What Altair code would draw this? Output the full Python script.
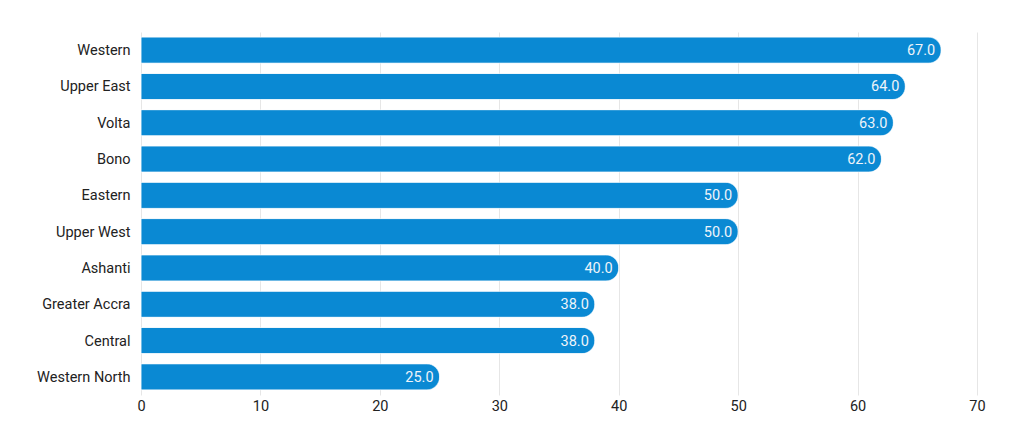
import altair as alt
import pandas as pd

regions = ["Western", "Upper East", "Volta", "Bono", "Eastern", "Upper West",
           "Ashanti", "Greater Accra", "Central", "Western North"]
values = [67.0, 64.0, 63.0, 62.0, 50.0, 50.0, 40.0, 38.0, 38.0, 25.0]

df = pd.DataFrame({"region": regions, "value": values})

base = alt.Chart(df).encode(
    y=alt.Y("region:N", sort=regions, title=None,
            scale=alt.Scale(paddingInner=0.28, paddingOuter=0.14),
            axis=alt.Axis(domain=False, ticks=False, labelPadding=11,
                          labelFont="Roboto", labelFontSize=14.5,
                          labelBaseline="middle", labelOffset=1,
                          labelColor="#222222")),
    x=alt.X("value:Q", title=None,
            scale=alt.Scale(domain=[0, 70]),
            axis=alt.Axis(values=[0, 10, 20, 30, 40, 50, 60, 70],
                          domain=False, ticks=False, labelPadding=4,
                          labelFlush=False,
                          labelFont="Roboto", labelFontSize=14.5,
                          labelColor="#222222", grid=True,
                          gridColor="#e6e6e6")),
)

bars = base.mark_bar(color="#0a89d3", cornerRadiusEnd=13,
                     stroke="#ffffff", strokeWidth=0.5)
labels = base.mark_text(align="right", baseline="middle", dx=-6, dy=1,
                        font="Roboto", fontSize=14.5, color="#eef4fa").encode(
    text=alt.Text("value:Q", format=".1f"))

chart = (bars + labels).properties(
    width=836, height=363,
    autosize=alt.AutoSizeParams(type="none"),
    padding={"left": 133, "top": 24, "right": 10, "bottom": 40},
).configure_view(stroke=None)

chart.save("out.html", embed_options={"renderer": "svg", "actions": False})
